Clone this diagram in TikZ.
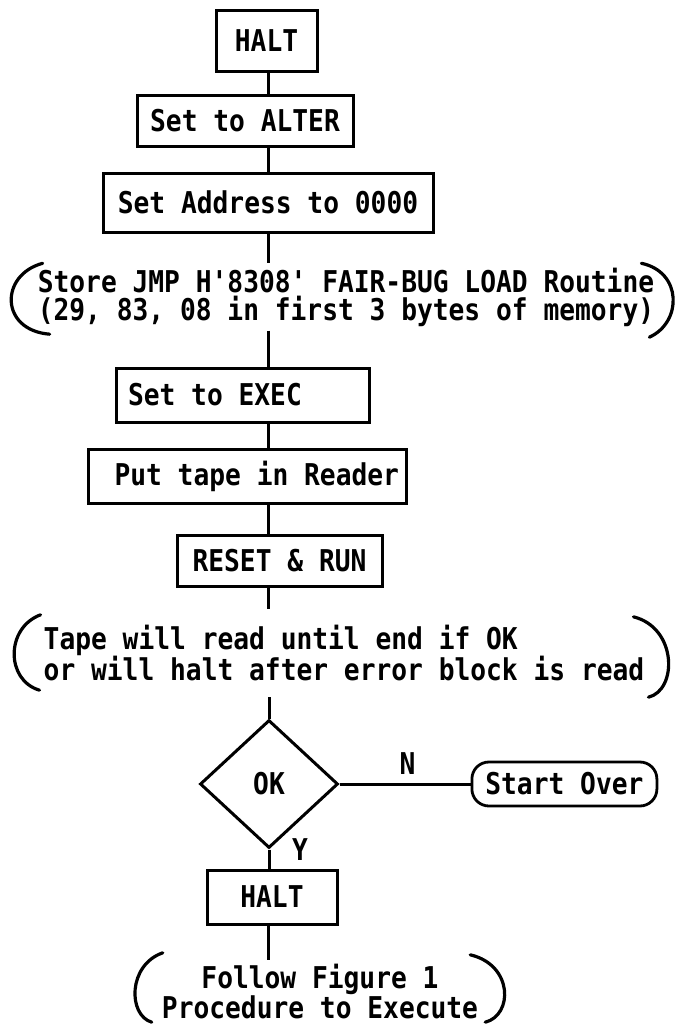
\documentclass[tikz,border=0pt]{standalone}
\usepackage{fontspec}
\usepackage{tikz}
\usetikzlibrary{positioning,calc,shapes.geometric}
\newfontfamily\tapefont[Ligatures=TeXOff,FakeStretch=0.875]{DejaVu Sans Mono Bold}
\tikzset{
  fbox/.style ={draw,line width=3pt,inner sep=0pt,align=center},
  fpar/.style ={inner sep=0pt},
  fdec/.style ={diamond,draw,line width=3pt,inner sep=0pt,
                minimum width=138pt,minimum height=128pt},
  fterm/.style={draw,line width=2.8pt,rounded corners=17pt,inner sep=0pt,
                minimum width=185pt,minimum height=44pt},
  fline/.style={line width=3pt},
  fbrk/.style ={line width=3.2pt,line cap=round},
  flbl/.style ={inner sep=1pt},
}

\begin{document}
\begin{tikzpicture}[x=1pt,y=-1pt,font=\tapefont\fontsize{30}{28}\selectfont]
    \useasboundingbox (0,0) rectangle (680,1028);
    \coordinate (spine) at (268,0);
    \node[fbox,minimum width=101pt,minimum height=61pt] (halt1) at (266.5,40.5) {HALT};
    \node[fbox,minimum width=216pt,minimum height=51pt] (alter) at (245,120.5) {Set to ALTER};
    \node[fbox,minimum width=330pt,minimum height=59pt] (addr) at (268,202.5) {Set Address to 0000};
    \node[fpar,align=left,minimum height=67pt] (store) at (346,297)
      {Store JMP H'8308' FAIR-BUG LOAD Routine\\(29, 83, 08 in first 3 bytes of memory)};
    \node[fbox,minimum width=253pt,minimum height=54pt] (exec) at (242.5,395)
      {\makebox[229pt][l]{Set to EXEC}};
    \node[fbox,minimum width=318pt,minimum height=54pt] (tape) at (247,476)
      {\makebox[304pt][r]{Put tape in Reader}};
    \node[fbox,minimum width=205pt,minimum height=51pt] (reset) at (279.5,560.5) {RESET \& RUN};
    \node[fpar,align=left,minimum height=88pt] (tapeok) at (344,653)
      {Tape will read until end if OK\\or will halt after error block is read};
    \node[fdec] (ok) at (269,784) {OK};
    \node[fterm,right=131pt of ok] (start) {Start Over};
    \node[fbox,minimum width=130pt,minimum height=54pt] (halt2) at (272,897) {HALT};
    \node[fpar,align=center,minimum height=64pt] (follow) at (320,992)
      {Follow Figure 1\\Procedure to Execute};

    % the main line down the page
    \draw[fline] (halt1.south -| spine) -- (alter.north -| spine);
    \draw[fline] (alter.south -| spine) -- (addr.north -| spine);
    \draw[fline] (addr.south -| spine) -- (store.north -| spine);
    \draw[fline] (store.south -| spine) -- (exec.north -| spine);
    \draw[fline] (exec.south -| spine) -- (tape.north -| spine);
    \draw[fline] (tape.south -| spine) -- (reset.north -| spine);
    \draw[fline] (reset.south -| spine) -- (tapeok.north -| spine);
    \draw[fline] (tapeok.south -| ok) -- (ok.north);
    \draw[fline] (ok.south) -- (halt2.north -| ok);
    \draw[fline] (halt2.south -| spine) -- (follow.north -| spine);
    \draw[fline] (ok.east) -- node[flbl,above=7pt,pos=0.52] (nlab) {N} (start.west);
    \node[flbl,right=22pt of ok.south] (ylab) {Y};

    % round brackets
    \draw[fbrk] ($(store.north west)+(5,0)$) .. controls ($(store.north west)+(-38,11.5)$)
      and ($(store.south west)+(-38,-0.5)$) .. ($(store.south west)+(12,3.5)$);
    \draw[fbrk] ($(store.north east)+(-13,0)$) .. controls ($(store.north east)+(28,8.5)$)
      and ($(store.south east)+(28,-8.5)$) .. ($(store.south east)+(-5,6.5)$);
    \draw[fbrk] ($(tapeok.north west)+(-3,6)$) .. controls ($(tapeok.north west)+(-38,19)$)
      and ($(tapeok.south west)+(-38,-17)$) .. ($(tapeok.south west)+(-4,-7)$);
    \draw[fbrk] ($(tapeok.north east)+(-11,8)$) .. controls ($(tapeok.north east)+(33,19)$)
      and ($(tapeok.south east)+(33,-7)$) .. ($(tapeok.south east)+(4,0)$);
    \draw[fbrk] ($(follow.north west)+(1,-7)$) .. controls ($(follow.north west)+(-34,5)$)
      and ($(follow.south west)+(-34,-9)$) .. ($(follow.south west)+(-10,-2)$);
    \draw[fbrk] ($(follow.north east)+(-8,-5)$) .. controls ($(follow.north east)+(35,5)$)
      and ($(follow.south east)+(35,-9)$) .. ($(follow.south east)+(7,-2)$);
\end{tikzpicture}
\end{document}
